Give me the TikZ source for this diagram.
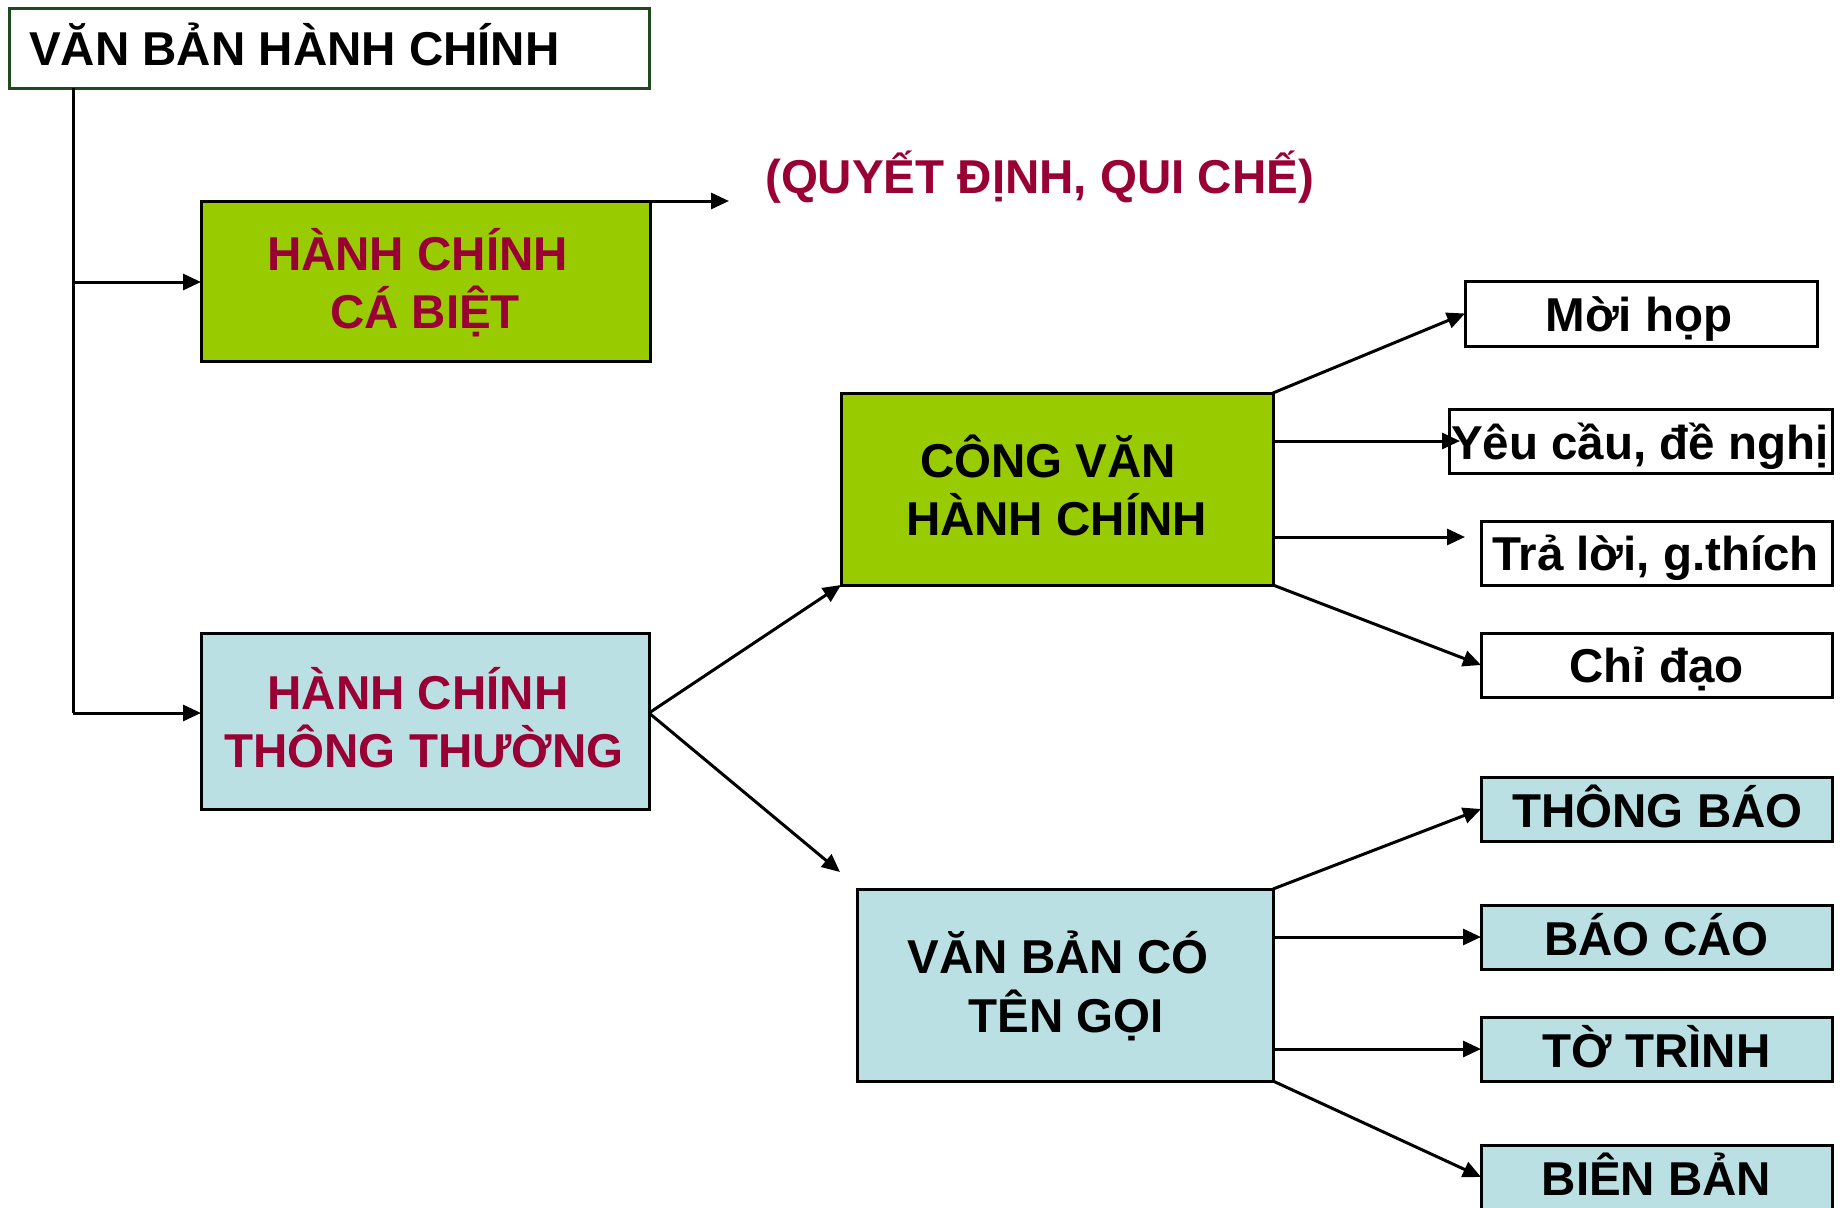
\documentclass[tikz,border=0pt]{standalone}
\usepackage{fontspec}
\setmainfont{Liberation Sans}
\usetikzlibrary{arrows.meta}
\definecolor{hcgreen}{HTML}{99CC00}
\definecolor{hcblue}{HTML}{BBE0E3}
\definecolor{hcred}{HTML}{990033}
\definecolor{hcdark}{HTML}{1E4A1E}
\begin{document}
\begin{tikzpicture}[x=1pt,y=-1pt,
  box/.style={draw=black, line width=3pt, inner sep=0pt, outer sep=0pt, rectangle},
  rbox/.style={box, minimum width=351pt, minimum height=64pt},
  txt/.style={inner sep=0pt, anchor=base, font=\fontsize{47.5}{57}\selectfont\bfseries},
  arr/.style={line width=3pt, -{Triangle[length=18pt,width=16pt]}},
  ln/.style={line width=3pt}]
\clip (0,0) rectangle (1843,1207);
\fill[white] (0,0) rectangle (1843,1207);

% boxes
\node[box, draw=hcdark, fill=white, minimum width=640pt, minimum height=79pt] (title) at (329,48.5) {};
\node[box, fill=hcgreen, minimum width=449pt, minimum height=160pt] (b1) at (425.5,281) {};
\node[box, fill=hcblue, minimum width=448pt, minimum height=176pt] (b2) at (425,721) {};
\node[box, fill=hcgreen, minimum width=432pt, minimum height=192pt] (cv) at (1057,489) {};
\node[box, fill=hcblue, minimum width=416pt, minimum height=192pt] (vb) at (1065,985) {};

\node[rbox, fill=white, minimum width=352pt, minimum height=65pt] (moi) at (1641,313.5) {};
\node[rbox, fill=white, minimum width=383pt] (yeu) at (1640.5,441) {};
\node[rbox, fill=white] (tra) at (1656.5,553) {};
\node[rbox, fill=white] (chi) at (1656.5,665) {};
\node[rbox, fill=hcblue] (tb) at (1656.5,809) {};
\node[rbox, fill=hcblue] (bc) at (1656.5,937) {};
\node[rbox, fill=hcblue] (tt) at (1656.5,1049) {};
\node[rbox, fill=hcblue] (bb) at (1656.5,1177) {};

% connectors
\coordinate (j1) at (73,282);
\coordinate (j2) at (73,713);
\draw[ln] (title.south -| j1) -- (j2);
\draw[arr] (j1) -- (j1 -| b1.west);
\draw[arr] (j2) -- (j2 -| b2.west);

\coordinate (qend) at (729,201);
\draw[arr] (qend -| b1.east) -- (qend);

\coordinate (vbin) at (840,872);
\draw[arr] (b2.east |- j2) -- (cv.south west);
\draw[arr] (b2.east |- j2) -- (vbin);

\coordinate (yend) at (1460,441);
\coordinate (tend) at (1465,537);
\draw[arr] (cv.north east) -- (moi.west);
\draw[arr] (cv.east |- yend) -- (yend);
\draw[arr] (cv.east |- tend) -- (tend);
\draw[arr] (cv.south east) -- (chi.west);

\draw[arr] (vb.north east) -- (tb.west);
\draw[arr] (vb.east |- bc.west) -- (bc.west);
\draw[arr] (vb.east |- tt.west) -- (tt.west);
\draw[arr] (vb.south east) -- (bb.west);

% texts
\node[txt, anchor=base west] (titlet) at (29,65) {VĂN BẢN HÀNH CHÍNH};
\node[txt, anchor=base west, text=hcred] (qd) at (765,193) {(QUYẾT ĐỊNH, QUI CHẾ)};
\node[txt, text=hcred] (b1a) at (417.5,270) {HÀNH CHÍNH};
\node[txt, text=hcred] (b1b) at (425,328) {CÁ BIỆT};
\node[txt, text=hcred] (b2a) at (418,709) {HÀNH CHÍNH};
\node[txt, text=hcred] (b2b) at (424,767) {THÔNG THƯỜNG};
\node[txt] (cva) at (1048,477) {CÔNG VĂN};
\node[txt] (cvb) at (1056.5,535) {HÀNH CHÍNH};
\node[txt] (vba) at (1058,973) {VĂN BẢN CÓ};
\node[txt] (vbb) at (1066,1032) {TÊN GỌI};
\node[txt] (moit) at (1639,331) {Mời họp};
\node[txt] (yeut) at (1640,459) {Yêu cầu, đề nghị};
\node[txt] (trat) at (1655.5,570) {Trả lời, g.thích};
\node[txt] (chit) at (1656.5,682) {Chỉ đạo};
\node[txt] (tbt) at (1657.5,827) {THÔNG BÁO};
\node[txt] (bct) at (1656.5,955) {BÁO CÁO};
\node[txt] (ttt) at (1656.5,1067) {TỜ TRÌNH};
\node[txt] (bbt) at (1656.5,1195) {BIÊN BẢN};
\end{tikzpicture}
\end{document}
